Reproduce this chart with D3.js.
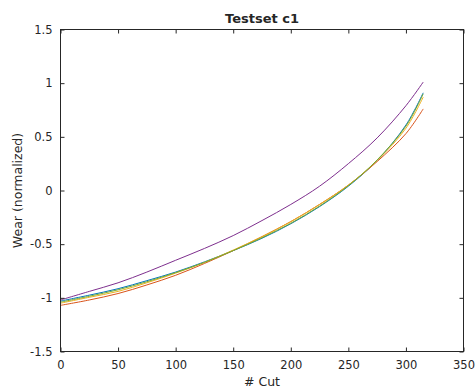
<!DOCTYPE html>
<html>
<head>
<meta charset="utf-8">
<script src="https://cdn.jsdelivr.net/npm/d3@7"></script>
<style>
  html, body { margin: 0; padding: 0; background: #fff; }
  svg { display: block; }
  text { font-family: "DejaVu Sans", sans-serif; fill: #262626; }
</style>
</head>
<body>
<svg id="chart" width="476" height="389"></svg>
<script>
// Cut numbers at which each wear curve is sampled
const cuts = [0, 25, 50, 75, 100, 125, 150, 175, 200, 225, 250, 275, 300, 315];

// Normalized wear per test run
const wearBlue   = [-1.03, -0.975, -0.915, -0.84, -0.76, -0.665, -0.56, -0.445, -0.31, -0.15, 0.04, 0.28, 0.61, 0.91];
const wearOrange = [-1.07, -1.02, -0.96, -0.88, -0.79, -0.68, -0.56, -0.43, -0.29, -0.13, 0.05, 0.27, 0.53, 0.76];
const wearYellow = [-1.05, -0.995, -0.94, -0.86, -0.77, -0.67, -0.555, -0.43, -0.29, -0.13, 0.05, 0.28, 0.58, 0.87];
const wearPurple = [-1.02, -0.94, -0.86, -0.76, -0.65, -0.54, -0.42, -0.28, -0.13, 0.04, 0.25, 0.49, 0.79, 1.01];
const wearGreen  = [-1.04, -0.985, -0.925, -0.85, -0.765, -0.67, -0.56, -0.44, -0.305, -0.145, 0.045, 0.285, 0.60, 0.90];

const seriesNames  = ["run1", "run2", "run3", "run4", "run5"];
const seriesValues = [wearBlue, wearOrange, wearYellow, wearPurple, wearGreen];
const seriesColors = ["#0072BD", "#D95319", "#EDB120", "#7E2F8E", "#77AC30"];

const xTicks = [0, 50, 100, 150, 200, 250, 300, 350];
const yTicks = [-1.5, -1, -0.5, 0, 0.5, 1, 1.5];

const svg = d3.select("#chart");
const plot = { left: 60.5, right: 463.5, top: 29.5, bottom: 351.5 };

const x = d3.scaleLinear().domain([0, 350]).range([plot.left, plot.right]);
const y = d3.scaleLinear().domain([-1.5, 1.5]).range([plot.bottom, plot.top]);

const fmt = d => String(d);
const tickLen = 4;

// Curves
const line = d3.line()
  .x((d, i) => x(cuts[i]))
  .y(d => y(d))
  .curve(d3.curveCatmullRom.alpha(0.5));

const lines = svg.append("g");
seriesValues.forEach((vals, k) => {
  lines.append("path")
    .datum(vals)
    .attr("d", line)
    .attr("fill", "none")
    .attr("stroke", seriesColors[k])
    .attr("stroke-width", 1)
    .attr("data-name", seriesNames[k]);
});

// Axes: ticks pointing inward, mirrored on top and right
const axisColor = "#262626";
function styleAxis(g) {
  g.select(".domain").remove();
  g.selectAll(".tick line").attr("stroke", axisColor);
  g.selectAll(".tick text").style("font-size", "11.5px").attr("fill", axisColor);
}

svg.append("g")
  .attr("transform", `translate(0,${plot.bottom})`)
  .call(d3.axisBottom(x).tickValues(xTicks).tickFormat(fmt).tickSizeInner(-tickLen).tickPadding(9))
  .call(styleAxis);

svg.append("g")
  .attr("transform", `translate(0,${plot.top})`)
  .call(d3.axisTop(x).tickValues(xTicks).tickFormat("").tickSizeInner(-tickLen).tickSizeOuter(0))
  .call(styleAxis);

svg.append("g")
  .attr("transform", `translate(${plot.left},0)`)
  .call(d3.axisLeft(y).tickValues(yTicks).tickFormat(fmt).tickSizeInner(-tickLen).tickPadding(8))
  .call(styleAxis);

svg.append("g")
  .attr("transform", `translate(${plot.right},0)`)
  .call(d3.axisRight(y).tickValues(yTicks).tickFormat("").tickSizeInner(-tickLen).tickSizeOuter(0))
  .call(styleAxis);

// Box
svg.append("rect")
  .attr("x", plot.left).attr("y", plot.top)
  .attr("width", plot.right - plot.left).attr("height", plot.bottom - plot.top)
  .attr("fill", "none").attr("stroke", axisColor).attr("stroke-width", 1);

// Title and labels
svg.append("text")
  .attr("x", (plot.left + plot.right) / 2).attr("y", 23)
  .attr("text-anchor", "middle")
  .style("font-size", "13px").style("font-weight", "bold")
  .attr("fill", "#000")
  .text("Testset c1");

svg.append("text")
  .attr("x", (plot.left + plot.right) / 2).attr("y", 386)
  .attr("text-anchor", "middle")
  .style("font-size", "12.5px")
  .text("# Cut");

svg.append("text")
  .attr("transform", `translate(22,${(plot.top + plot.bottom) / 2}) rotate(-90)`)
  .attr("text-anchor", "middle")
  .style("font-size", "12.5px")
  .text("Wear (normalized)");
</script>
</body>
</html>
